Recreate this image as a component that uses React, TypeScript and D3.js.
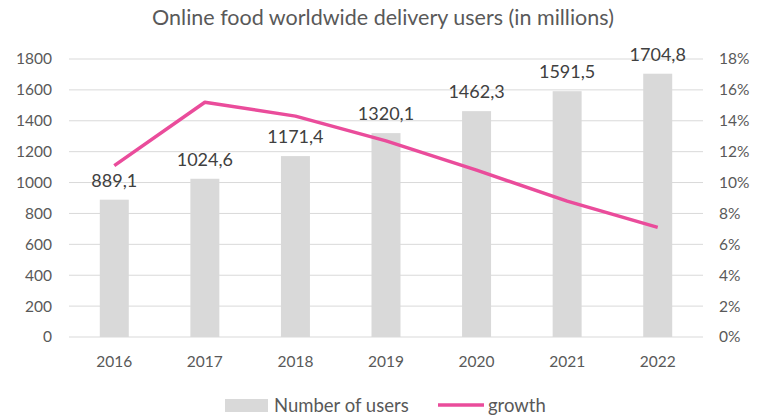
import React from 'react';
import { useRef, useEffect } from 'react';
import * as d3 from 'd3';

const years = ["2016", "2017", "2018", "2019", "2020", "2021", "2022"];
const users = [889.1, 1024.6, 1171.4, 1320.1, 1462.3, 1591.5, 1704.8];
const growth = [11.1, 15.2, 14.3, 12.7, 10.8, 8.8, 7.1];
const leftTicks = [0, 200, 400, 600, 800, 1000, 1200, 1400, 1600, 1800];
const rightTicks = [0, 2, 4, 6, 8, 10, 12, 14, 16, 18];

const chartStyle = {
    margin: {top: 59, left: 69, bottom: 79, right: 56},
    fontFamily: "Lato, 'Open Sans', sans-serif",
    textColor: "#595959",
    gridLineColor: "#d9d9d9",
    barFill: "#d9d9d9",
    lineColor: "#ea4c9b",
    strokeWidth: 3.5
};

const formatComma = (d: number) => d.toFixed(1).replace(".", ",");

const width = 759;
const height = 416;

const App: React.FC = () => {
    const svgRef = useRef<SVGSVGElement>(null);

    useEffect(() => {
        if (!svgRef.current) return;
        const margin = chartStyle.margin;
        const svg = d3.select(svgRef.current);
        svg.selectAll("*").remove();

        const xScale = d3.scaleBand<string>()
            .domain(years)
            .range([margin.left, width - margin.right])
            .paddingInner(0.68)
            .paddingOuter(0.34);

        const yScale = d3.scaleLinear()
            .domain([0, 1800])
            .range([height - margin.bottom, margin.top]);

        const y2Scale = d3.scaleLinear()
            .domain([0, 18])
            .range([height - margin.bottom, margin.top]);

        // title
        svg.append("text")
            .attr("x", 383)
            .attr("y", 25)
            .attr("text-anchor", "middle")
            .style("font-family", chartStyle.fontFamily)
            .style("font-size", "21.5px")
            .style("fill", chartStyle.textColor)
            .text("Online food worldwide delivery users (in millions)");

        // gridlines
        svg.append("g")
            .selectAll("line")
            .data(leftTicks)
            .join("line")
            .attr("x1", margin.left)
            .attr("x2", width - margin.right)
            .attr("y1", d => yScale(d))
            .attr("y2", d => yScale(d))
            .attr("stroke", chartStyle.gridLineColor)
            .attr("stroke-width", 1);

        // left axis
        const yAxis = d3.axisLeft<number>(yScale)
            .tickValues(leftTicks)
            .tickFormat(d3.format("d"))
            .tickSize(0)
            .tickPadding(17);
        svg.append("g")
            .attr("transform", `translate(${margin.left},0)`)
            .call(yAxis)
            .call(g => g.select(".domain").remove());

        // right axis
        const y2Axis = d3.axisRight<number>(y2Scale)
            .tickValues(rightTicks)
            .tickFormat(d => `${d}%`)
            .tickSize(0)
            .tickPadding(16);
        svg.append("g")
            .attr("transform", `translate(${width - margin.right},0)`)
            .call(y2Axis)
            .call(g => g.select(".domain").remove());

        // x axis
        const xAxis = d3.axisBottom<string>(xScale)
            .tickSize(0)
            .tickPadding(19);
        svg.append("g")
            .attr("transform", `translate(0,${height - margin.bottom})`)
            .call(xAxis)
            .call(g => g.select(".domain").remove());

        svg.selectAll(".tick text")
            .style("font-family", chartStyle.fontFamily)
            .style("font-size", "15.5px")
            .style("fill", chartStyle.textColor);

        // bars
        svg.append("g")
            .selectAll("rect")
            .data(years)
            .join("rect")
            .attr("x", d => xScale(d)!)
            .attr("width", xScale.bandwidth())
            .attr("y", (d, i) => yScale(users[i]))
            .attr("height", (d, i) => yScale(0) - yScale(users[i]))
            .attr("fill", chartStyle.barFill);

        // data labels
        svg.append("g")
            .selectAll("text")
            .data(years)
            .join("text")
            .attr("x", d => xScale(d)! + xScale.bandwidth() / 2)
            .attr("y", (d, i) => yScale(users[i]) - 13)
            .attr("text-anchor", "middle")
            .style("font-family", chartStyle.fontFamily)
            .style("font-size", "18px")
            .style("fill", "#404040")
            .text((d, i) => formatComma(users[i]));

        // growth line
        const line = d3.line<number>()
            .x((d, i) => xScale(years[i])! + xScale.bandwidth() / 2)
            .y(d => y2Scale(d));

        svg.append("path")
            .datum(growth)
            .attr("fill", "none")
            .attr("stroke", chartStyle.lineColor)
            .attr("stroke-width", chartStyle.strokeWidth)
            .attr("stroke-linejoin", "round")
            .attr("d", line);

        // legend
        const legend = svg.append("g");
        legend.append("rect")
            .attr("x", 225)
            .attr("y", 399)
            .attr("width", 43)
            .attr("height", 13)
            .attr("fill", chartStyle.barFill);
        legend.append("text")
            .attr("x", 274)
            .attr("y", 412)
            .style("font-family", chartStyle.fontFamily)
            .style("font-size", "18.5px")
            .style("fill", chartStyle.textColor)
            .text("Number of users");
        legend.append("line")
            .attr("x1", 438)
            .attr("x2", 484)
            .attr("y1", 405)
            .attr("y2", 405)
            .attr("stroke", chartStyle.lineColor)
            .attr("stroke-width", chartStyle.strokeWidth);
        legend.append("text")
            .attr("x", 488)
            .attr("y", 412)
            .style("font-family", chartStyle.fontFamily)
            .style("font-size", "18.5px")
            .style("fill", chartStyle.textColor)
            .text("growth");
    }, []);

    return (
        <div style={{position: "fixed", top: 0, left: 0, background: "#fff"}}>
            <svg ref={svgRef} width={width} height={height} style={{display: "block"}} />
        </div>
    );
};

export default App;
